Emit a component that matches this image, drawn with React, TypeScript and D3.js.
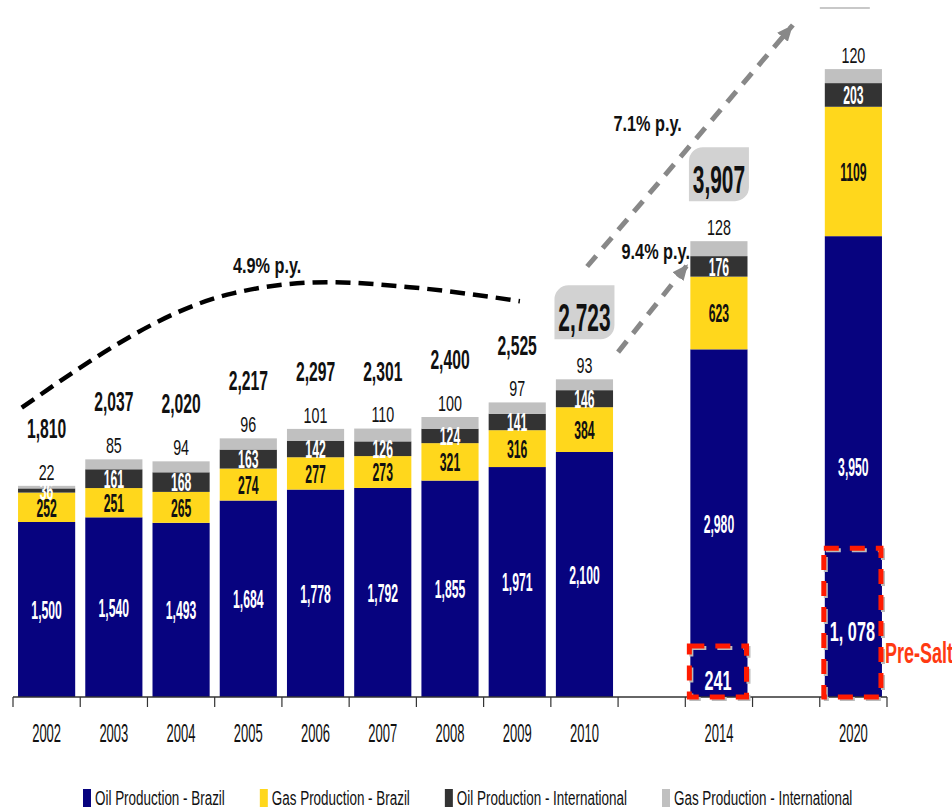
import { useRef, useEffect } from 'react';
import * as d3 from 'd3';

// category slots on the x axis (two empty slots mark the jumps in time)
const slots = ['2002', '2003', '2004', '2005', '2006', '2007', '2008', '2009', '2010', 'gap1', '2014', 'gap2', '2020'];
const years = ['2002', '2003', '2004', '2005', '2006', '2007', '2008', '2009', '2010', '2014', '2020'];

const oilBrazil = [1500, 1540, 1493, 1684, 1778, 1792, 1855, 1971, 2100, 2980, 3950];
const gasBrazil = [252, 251, 265, 274, 277, 273, 321, 316, 384, 623, 1109];
const oilIntl = [36, 161, 168, 163, 142, 126, 124, 141, 146, 176, 203];
const gasIntl = [22, 85, 94, 96, 101, 110, 100, 97, 93, 128, 120];
const totalLabels = ['1,810', '2,037', '2,020', '2,217', '2,297', '2,301', '2,400', '2,525', '2,723', '3,907', ''];
const boxedYears = ['2010', '2014'];
const segmentLabels = [
  oilBrazil.map(v => d3.format(',')(v)),
  gasBrazil.map(String),
  oilIntl.map(String),
  gasIntl.map(String),
];

const preSaltYears = ['2014', '2020'];
const preSaltValues = [241, 1078];
const preSaltLabels = ['241', '1, 078'];

const seriesNames = ['Oil Production - Brazil', 'Gas Production - Brazil', 'Oil Production - International', 'Gas Production - International'];
const keys = ['oilBrazil', 'gasBrazil', 'oilIntl', 'gasIntl'];

// growth annotations, given as [slot position, value]
const arcPoints = [[-0.37, 2480], [2.77, 3460], [4.2, 3556], [5.4, 3513], [7.04, 3393]];
const arrowLong = [[8.04, 3690], [11.1, 5760]];
const arrowShort = [[8.5, 2956], [9.54, 3710]];
const growthLabels = [
  { text: '4.9% p.y.', slot: 3.28, value: 3703 },
  { text: '7.1% p.y.', slot: 8.94, value: 4917 },
  { text: '9.4% p.y.', slot: 9.06, value: 3822 },
];

const colors = ['#07037f', '#ffd71c', '#333333', '#c0c0c0'];
const labelColors = ['#ffffff', '#111111', '#ffffff', '#111111'];

export default function App() {
  const svgRef = useRef<SVGSVGElement>(null);

  useEffect(() => {
    const W = 952, H = 811;
    const svg = d3.select(svgRef.current).html('')
      .attr('width', W).attr('height', H)
      .style('font-family', '"Liberation Sans", Arial, sans-serif');

    svg.append('rect').attr('width', W).attr('height', H).attr('fill', '#fff');

    const x = d3.scaleBand().domain(slots).range([13, 887]).paddingInner(0.15).paddingOuter(0.075);
    const y = d3.scaleLinear().domain([0, 6000]).range([697, -3]);
    const step = x.step();
    const xs = (s: number) => 13 + step * (s + 0.5);

    const rows = years.map((yr, i) => ({
      year: yr, oilBrazil: oilBrazil[i], gasBrazil: gasBrazil[i], oilIntl: oilIntl[i], gasIntl: gasIntl[i],
    }));
    const stacked = d3.stack().keys(keys)(rows as any);

    // the source uses a tall condensed face, so text is squeezed horizontally
    const label = (g: any, px: number, py: number, str: string, size: number, weight: string, fill: string, sx: number, anchor = 'middle') =>
      g.append('text')
        .attr('transform', `translate(${px},${py}) scale(${sx},1)`)
        .attr('text-anchor', anchor)
        .attr('dy', '0.36em')
        .attr('font-size', size)
        .attr('font-weight', weight)
        .attr('fill', fill)
        .text(str);

    // bars
    stacked.forEach((layer, k) => {
      svg.append('g').selectAll('rect').data(layer).enter().append('rect')
        .attr('x', (d: any) => x(d.data.year)!)
        .attr('y', d => y(d[1]))
        .attr('width', x.bandwidth())
        .attr('height', d => y(d[0]) - y(d[1]))
        .attr('fill', colors[k]);
    });

    // axis
    const axis = svg.append('g');
    axis.append('line').attr('x1', 13).attr('x2', 887).attr('y1', 697).attr('y2', 697)
      .attr('stroke', '#333').attr('stroke-width', 1.5);
    d3.range(slots.length + 1).forEach(k => {
      axis.append('line').attr('x1', 13 + k * step).attr('x2', 13 + k * step)
        .attr('y1', 697).attr('y2', 707).attr('stroke', '#333').attr('stroke-width', 1.2);
    });
    years.forEach(yr => label(axis, x(yr)! + x.bandwidth() / 2, 733, yr, 26, 'normal', '#111', 0.5));

    // segment labels
    const lab = svg.append('g');
    stacked.forEach((layer, k) => {
      layer.forEach((d: any, i) => {
        const cx = x(d.data.year)! + x.bandwidth() / 2;
        if (k < 3) label(lab, cx, y((d[0] + d[1]) / 2), segmentLabels[k][i], 26, 'bold', labelColors[k], 0.47);
        else label(lab, cx, y(d[1]) - 14, segmentLabels[k][i], 22, 'normal', labelColors[k], 0.65);
      });
    });

    // totals
    const lastLayer = stacked[stacked.length - 1];
    lastLayer.forEach((d: any, i) => {
      const str = totalLabels[i];
      if (!str) return;
      const cx = x(d.data.year)! + x.bandwidth() / 2;
      if (boxedYears.includes(d.data.year)) {
        const cy = y(d[1]) - 62;
        const bw = 60, bh = 54, r = 14;
        const bx = cx - bw / 2, by = cy - bh / 2 - 5;
        lab.append('path')
          .attr('d', `M${bx + r},${by} H${bx + bw} V${by + bh - r} A${r},${r} 0 0 1 ${bx + bw - r},${by + bh} H${bx} V${by + r} A${r},${r} 0 0 1 ${bx + r},${by} Z`)
          .attr('fill', '#d2d2d2');
        label(lab, cx, cy, str, 38, 'bold', '#111', 0.55);
      } else {
        label(lab, cx, y(d[1]) - 58, str, 28, 'bold', '#111', 0.56);
      }
    });
    // edge of the 2020 callout, cut off by the frame in the source
    lab.append('line').attr('x1', x('2020')! - 5).attr('x2', x('2020')! + 45)
      .attr('y1', 8).attr('y2', 8).attr('stroke', '#c8c8c8').attr('stroke-width', 2);

    // growth annotations
    const ann = svg.append('g');
    const defs = svg.append('defs');
    defs.append('marker').attr('id', 'ah').attr('markerUnits', 'userSpaceOnUse')
      .attr('markerWidth', 18).attr('markerHeight', 16).attr('refX', 16).attr('refY', 7)
      .attr('orient', 'auto')
      .append('path').attr('d', 'M0,0 L16,7 L0,14 Z').attr('fill', '#888');

    ann.append('path').datum(arcPoints)
      .attr('d', d3.line<number[]>().x(p => xs(p[0])).y(p => y(p[1])).curve(d3.curveMonotoneX))
      .attr('fill', 'none').attr('stroke', '#000').attr('stroke-width', 4.5)
      .attr('stroke-dasharray', '15 8');
    [arrowLong, arrowShort].forEach(pts => {
      ann.append('path').datum(pts)
        .attr('d', d3.line<number[]>().x(p => xs(p[0])).y(p => y(p[1])))
        .attr('fill', 'none').attr('stroke', '#888').attr('stroke-width', 5)
        .attr('stroke-dasharray', '14 10').attr('marker-end', 'url(#ah)');
    });
    growthLabels.forEach(g => label(ann, xs(g.slot), y(g.value), g.text, 22, 'bold', '#111', 0.74));

    // pre-salt highlight
    const ps = svg.append('g');
    preSaltYears.forEach((yr, i) => {
      const bx = x(yr)! - 1, bw = x.bandwidth();
      const by = y(preSaltValues[i]) - 23;
      const bh = y(0) - by;
      ps.append('rect').attr('x', bx + 2).attr('y', by + 2).attr('width', bw).attr('height', bh)
        .attr('fill', 'none').attr('stroke', '#bbb').attr('stroke-width', 4).attr('stroke-dasharray', '15 11');
      ps.append('rect').attr('x', bx).attr('y', by).attr('width', bw).attr('height', bh)
        .attr('fill', 'none').attr('stroke', '#ff1a00').attr('stroke-width', 5).attr('stroke-dasharray', '15 11');
      label(ps, bx + bw / 2, y(preSaltValues[i] / 2) - 3, preSaltLabels[i], 28, 'bold', '#fff', 0.58);
    });
    label(ps, x('2020')! + x.bandwidth() + 3, y(0) - 45, 'Pre-Salt', 30, 'bold', '#ff3a12', 0.6, 'start');

    // legend
    const leg = svg.append('g');
    let cursor = 83;
    seriesNames.forEach((name, k) => {
      leg.append('rect').attr('x', cursor).attr('y', 789).attr('width', 8).attr('height', 18).attr('fill', colors[k]);
      const t = label(leg, cursor + 12, 797, name, 21, 'normal', '#111', 0.64, 'start');
      const w = (t.node() as SVGTextElement).getComputedTextLength() * 0.64;
      cursor += 12 + w + 35;
    });
  }, []);

  return <svg ref={svgRef} style={{ position: 'absolute', left: 0, top: 0 }} />;
}
